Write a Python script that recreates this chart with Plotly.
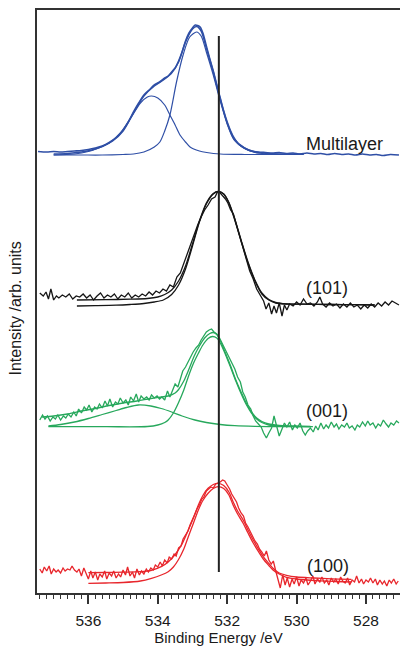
import plotly.graph_objects as go

# ---------------- data (binding energy / eV, intensity in arb. units) ----------------
# Multilayer (blue)
ml_raw_E = [537.45, 537.2, 537.0, 536.8, 536.6, 536.4, 536.2, 536.0, 535.8, 535.6, 535.4, 535.2, 535.0, 534.85,
            534.7, 534.55, 534.4, 534.25, 534.1, 533.95, 533.8, 533.7, 533.6, 533.5, 533.4, 533.3, 533.2, 533.1,
            533.0, 532.92, 532.85, 532.78, 532.7, 532.6, 532.5, 532.4, 532.3, 532.2, 532.1, 532.0, 531.9, 531.8,
            531.7, 531.6, 531.45, 531.3, 531.1, 530.9, 530.7, 530.5, 530.3, 530.1, 529.9, 529.7, 529.5, 529.3,
            529.1, 528.9, 528.7, 528.5, 528.3, 528.1, 527.9, 527.7, 527.5, 527.3, 527.05]
ml_raw_I = [441.5, 441, 441.5, 441, 441.5, 442, 442.5, 443.5, 445, 447, 450.5, 455.5, 463, 471,
            481, 490, 498, 503, 508, 511, 515, 517, 521, 525, 532, 541, 552, 560,
            565, 568, 567.5, 566, 560, 547, 534, 522, 508, 495, 482, 471, 462, 455,
            450, 447, 444, 442, 441, 440.5, 440, 440.5, 439.5, 440, 439, 440, 439, 439.5,
            438.5, 439.5, 438.5, 439, 438, 439, 438, 438.5, 437.5, 438.5, 438]
ml_fit_E = [537.0, 536.6, 536.2, 535.9, 535.6, 535.3, 535.0, 534.7, 534.4, 534.1, 533.8, 533.6, 533.4, 533.2,
            533.0, 532.88, 532.75, 532.6, 532.4, 532.2, 532.0, 531.8, 531.5, 531.2, 530.8, 530.3, 529.8]
ml_fit_I = [439, 439.5, 441, 443, 446.5, 452, 462, 480, 497, 507, 514, 520, 531, 551,
            564, 566.5, 562, 545, 521, 494, 470, 454, 445, 441, 439.5, 439, 439]
ml_main_E = [537.0, 536.2, 535.6, 535.0, 534.7, 534.4, 534.1, 533.94, 533.8, 533.65, 533.46, 533.27, 533.08,
             532.88, 532.75, 532.6, 532.4, 532.2, 532.0, 531.8, 531.5, 531.2, 530.8, 529.8]
ml_main_I = [438, 438, 438, 438.5, 439, 441, 446, 451, 462, 478, 511, 538, 556,
             561, 557, 541, 518, 492, 469, 453, 444.5, 440.5, 439, 438.5]
ml_shoulder_E = [537.0, 536.4, 536.0, 535.7, 535.4, 535.1, 534.8, 534.5, 534.3, 534.18, 534.0, 533.8, 533.65,
                 533.5, 533.36, 533.2, 533.07, 532.8, 532.59, 532.2, 531.5, 529.8]
ml_shoulder_I = [438, 439, 441.5, 445, 450, 459, 474, 490, 496, 497, 495, 488, 478,
                 468, 458, 451, 446, 442, 440.5, 439, 438.5, 438.5]

# (101) (black)
s101_raw_E = [537.40, 537.30, 537.22, 537.15, 537.08, 537.0, 536.92, 536.85, 536.75, 536.65, 536.55, 536.45,
              536.35, 536.25, 536.15, 536.05, 535.95, 535.85, 535.75, 535.65, 535.55, 535.45, 535.35, 535.25,
              535.15, 535.05, 534.95, 534.85, 534.75, 534.65, 534.55, 534.45, 534.35, 534.25, 534.15, 534.05,
              533.95, 533.85, 533.75, 533.65, 533.55, 533.45, 533.35, 533.25, 533.15, 533.05, 532.95, 532.85,
              532.75, 532.65, 532.55, 532.45, 532.35, 532.28, 532.2, 532.12, 532.05, 531.98, 531.9, 531.82,
              531.75, 531.65, 531.55, 531.45, 531.35, 531.25, 531.15, 531.05, 530.95, 530.88, 530.8, 530.72,
              530.65, 530.58, 530.5, 530.42, 530.35, 530.28, 530.2, 530.1, 530.0, 529.9, 529.8, 529.7, 529.6,
              529.5, 529.4, 529.33, 529.25, 529.15, 529.05, 528.95, 528.85, 528.75, 528.65, 528.55, 528.45,
              528.35, 528.25, 528.15, 528.05, 527.95, 527.85, 527.75, 527.65, 527.55, 527.45, 527.35, 527.25,
              527.15, 527.05]
s101_raw_I = [300, 297, 301, 294, 304, 293, 297, 295, 298, 296, 299, 294,
              297, 296, 299, 295, 298, 293, 297, 300, 295, 298, 296, 299,
              294, 298, 296, 300, 295, 298, 296, 299, 297, 301, 298, 302,
              300, 304, 302, 308, 306, 316, 320, 330, 338, 350, 358, 368,
              376, 383, 388, 394, 396, 401, 400, 397, 394, 390, 383, 379,
              370, 358, 344, 334, 322, 314, 304, 298, 292, 284, 290, 279,
              287, 280, 290, 277, 288, 283, 289, 287, 291, 288, 294, 289, 290,
              287, 291, 296, 289, 286, 290, 287, 289, 285, 289, 286, 290,
              286, 288, 284, 288, 285, 289, 286, 290, 287, 291, 288, 292,
              290, 288]
s101_env_E = [536.33, 535.5, 534.8, 534.3, 534.0, 533.8, 533.6, 533.4, 533.2, 533.0, 532.8, 532.6, 532.4,
              532.26, 532.1, 531.95, 531.8, 531.6, 531.4, 531.2, 531.0, 530.8, 530.6, 530.3, 529.8, 529.0,
              528.3, 527.75]
s101_env_I = [293, 293.3, 293.8, 294.5, 296, 298.5, 303, 312, 327, 349, 372, 390, 399.5,
              401.5, 399, 390.5, 376, 353, 331, 313, 300, 293.5, 290.5, 289, 288.8, 288.5,
              288.3, 288]
s101_comp_E = [536.33, 535.8, 535.2, 534.8, 534.4, 534.1, 533.84, 533.6, 533.4, 533.2, 533.0, 532.8, 532.6,
               532.4, 532.26, 532.1, 531.95, 531.8, 531.6, 531.4, 531.2, 531.0, 530.8, 530.6, 530.3, 529.8,
               529.0, 528.3, 527.75]
s101_comp_I = [287, 287.3, 287.8, 288.5, 289.5, 291, 293, 298.5, 308, 324, 347, 371, 389,
               399, 401.5, 399, 390, 375, 352, 330, 312, 299, 293, 290, 289, 288.8,
               288.5, 288.3, 288]

# (001) (green)
s001_raw_E = [537.40, 537.32, 537.25, 537.18, 537.1, 537.02, 536.95, 536.88, 536.8, 536.72, 536.65, 536.58,
              536.5, 536.42, 536.35, 536.28, 536.2, 536.12, 536.05, 535.98, 535.9, 535.82, 535.75, 535.68,
              535.6, 535.52, 535.45, 535.38, 535.3, 535.22, 535.15, 535.08, 535.0, 534.92, 534.85, 534.78,
              534.7, 534.62, 534.55, 534.48, 534.4, 534.32, 534.25, 534.18, 534.1, 534.02, 533.95, 533.88,
              533.8, 533.72, 533.65, 533.58, 533.5, 533.42, 533.35, 533.28, 533.2, 533.12, 533.05, 532.98,
              532.9, 532.82, 532.75, 532.68, 532.6, 532.52, 532.45, 532.38, 532.3, 532.22, 532.15, 532.08,
              532.0, 531.92, 531.85, 531.78, 531.7, 531.62, 531.55, 531.48, 531.4, 531.32, 531.25, 531.18,
              531.1, 531.02, 530.95, 530.87, 530.8, 530.72, 530.65, 530.58, 530.5, 530.42, 530.35, 530.28,
              530.2, 530.12, 530.05, 529.98, 529.9, 529.82, 529.75, 529.68, 529.6, 529.52, 529.45, 529.38,
              529.3, 529.22, 529.15, 529.08, 529.0, 528.92, 528.85, 528.78, 528.7, 528.62, 528.55, 528.48,
              528.4, 528.32, 528.25, 528.18, 528.1, 528.02, 527.95, 527.88, 527.8, 527.72, 527.65, 527.58,
              527.5, 527.42, 527.35, 527.28, 527.2, 527.12, 527.05]
s001_raw_I = [173, 178, 174, 177, 172, 176, 174, 178, 173, 177, 175, 179,
              176, 181, 177, 184, 180, 186, 183, 188, 181, 186, 184, 189,
              185, 192, 187, 194, 186, 191, 189, 195, 190, 193, 188, 196,
              192, 199, 191, 197, 194, 196, 193, 198, 195, 197, 194, 196,
              193, 202, 196, 203, 209, 206, 214, 222, 226, 232, 236, 241,
              245, 248, 253, 257, 261, 263, 264, 261, 259, 255, 250, 246,
              240, 233, 229, 224, 216, 211, 201, 196, 188, 184, 177, 172,
              169, 166, 160, 155, 160, 165, 177, 168, 157, 164, 170, 166,
              171, 163, 168, 165, 170, 162, 158, 162, 165, 161, 167, 163,
              170, 164, 168, 165, 171, 166, 169, 164, 168, 166, 170, 165,
              167, 163, 168, 166, 171, 167, 172, 168, 170, 165, 169, 167,
              173, 169, 166, 170, 168, 172, 170]
s001_env_E = [537.34, 537.0, 536.6, 536.2, 535.8, 535.4, 535.0, 534.6, 534.2, 533.9, 533.7, 533.5, 533.4,
              533.25, 533.1, 532.95, 532.8, 532.65, 532.5, 532.4, 532.3, 532.2, 532.05, 531.9, 531.75,
              531.6, 531.45, 531.3, 531.15, 531.0, 530.8, 530.5, 530.1, 529.6]
s001_env_I = [176, 177, 179, 182, 184.5, 187.5, 190, 192, 194.5, 196, 197, 200, 203.5,
              212, 224, 237, 247, 255, 259.5, 260.5, 258.5, 252.5, 240, 227, 213,
              201, 190, 181, 175, 171.5, 169, 167.5, 167, 166.5]
s001_main_E = [537.15, 535.5, 534.3, 534.0, 533.8, 533.7, 533.55, 533.41, 533.25, 533.12, 532.98, 532.83,
               532.7, 532.55, 532.42, 532.3, 532.2, 532.05, 531.9, 531.75, 531.6, 531.45, 531.3, 531.15,
               531.0, 530.8, 530.4, 529.6]
s001_main_I = [166.3, 166.3, 166.5, 168, 170.5, 173, 180, 189.7, 203, 216.3, 229, 239.7,
               248, 254.5, 256.5, 255, 250, 238.5, 225.5, 212, 199.5, 188.5, 180, 174,
               170.5, 168, 166.8, 166.3]
s001_broad_E = [537.15, 536.8, 536.4, 536.0, 535.6, 535.2, 534.9, 534.56, 534.2, 533.9, 533.6, 533.3,
                532.93, 532.6, 532.2, 531.78, 531.2, 530.5, 529.53]
s001_broad_I = [167, 168.5, 171, 174.5, 178.5, 182.5, 185.5, 188, 187, 184.5, 181, 177,
                173, 170.5, 168.5, 167.3, 166.6, 166.3, 166.3]

# (100) (red)
s100_raw_E = [537.40, 537.33, 537.27, 537.2, 537.13, 537.07, 537.0, 536.93, 536.87, 536.8, 536.73, 536.67,
              536.6, 536.53, 536.47, 536.4, 536.33, 536.27, 536.2, 536.13, 536.07, 536.0, 535.93, 535.87,
              535.8, 535.73, 535.67, 535.6, 535.53, 535.47, 535.4, 535.33, 535.27, 535.2, 535.13, 535.07,
              535.0, 534.93, 534.87, 534.8, 534.73, 534.67, 534.6, 534.53, 534.47, 534.4, 534.33, 534.27,
              534.2, 534.13, 534.07, 534.0, 533.93, 533.87, 533.8, 533.73, 533.67, 533.6, 533.53, 533.47,
              533.4, 533.33, 533.27, 533.2, 533.13, 533.07, 533.0, 532.93, 532.87, 532.8, 532.73, 532.67,
              532.6, 532.53, 532.47, 532.4, 532.33, 532.27, 532.2, 532.13, 532.07, 532.0, 531.93, 531.87,
              531.8, 531.73, 531.67, 531.6, 531.53, 531.47, 531.4, 531.33, 531.27, 531.2, 531.13, 531.07,
              531.0, 530.93, 530.87, 530.8, 530.73, 530.67, 530.6, 530.53, 530.47, 530.4, 530.33, 530.27,
              530.2, 530.13, 530.07, 530.0, 529.93, 529.87, 529.8, 529.73, 529.67, 529.6, 529.53, 529.47,
              529.4, 529.33, 529.27, 529.2, 529.13, 529.07, 529.0, 528.93, 528.87, 528.8, 528.73, 528.67,
              528.6, 528.53, 528.47, 528.4, 528.33, 528.27, 528.2, 528.13, 528.07, 528.0, 527.93, 527.87,
              527.8, 527.73, 527.67, 527.6, 527.53, 527.47, 527.4, 527.33, 527.27, 527.2, 527.13, 527.07]
s100_raw_I = [24, 20, 26, 22, 27, 19, 24, 21, 23, 20, 25, 22,
              24, 23, 27, 23, 21, 24, 17, 25, 20, 14, 22, 15,
              21, 13, 19, 16, 22, 14, 20, 17, 22, 15, 19, 16,
              23, 18, 26, 17, 21, 15, 24, 18, 22, 19, 24, 21,
              25, 23, 28, 26, 31, 27, 33, 30, 36, 34, 39, 37,
              45, 47, 54, 58, 62, 68, 73, 79, 84, 88, 94, 96,
              102, 104, 106, 105, 109, 110, 111, 113, 112, 108, 104, 99,
              95, 91, 85, 80, 77, 70, 66, 61, 58, 52, 49, 44,
              41, 37, 42, 33, 29, 32, 22, 14, 5, 18, 8, 15,
              6, 14, 9, 16, 7, 13, 10, 15, 8, 12, 17, 9,
              14, 11, 16, 10, 13, 8, 15, 11, 14, 9, 16, 12,
              10, 15, 8, 13, 11, 17, 10, 14, 9, 13, 11, 15,
              10, 14, 8, 13, 9, 12, 7, 13, 10, 14, 9, 12]
s100_env_E = [536.0, 535.5, 535.0, 534.5, 534.2, 533.9, 533.7, 533.5, 533.3, 533.12, 532.95, 532.83, 532.7,
              532.55, 532.4, 532.26, 532.1, 531.95, 531.83, 531.7, 531.54, 531.4, 531.25, 531.1, 530.96,
              530.8, 530.68, 530.5, 530.29, 530.0, 529.5, 529.0, 528.42]
s100_env_I = [20.3, 20.5, 20.8, 21.3, 22.5, 26.3, 31, 38.5, 49, 63, 77, 88, 97.5,
              104.7, 108.5, 109.7, 107.5, 101, 91.3, 82, 73, 63, 53, 44, 36.3,
              29.5, 24.7, 20, 17.7, 16, 15, 14.2, 13.7]
s100_comp_E = [536.0, 535.5, 535.0, 534.5, 534.18, 533.9, 533.7, 533.55, 533.41, 533.25, 533.12, 532.97,
               532.83, 532.7, 532.55, 532.4, 532.26, 532.1, 531.95, 531.83, 531.7, 531.54, 531.4, 531.25,
               531.1, 530.96, 530.8, 530.68, 530.5, 530.29, 530.0, 529.43, 528.9, 528.42]
s100_comp_I = [9.7, 10, 10.5, 12, 14.7, 18, 21.3, 26, 33, 44, 56.3, 70,
               83, 92.5, 99.7, 104.5, 106.3, 104.5, 98, 88, 79, 69.7, 60, 50,
               41.5, 34, 27.5, 23, 19, 15.7, 14, 12.3, 11.5, 11]

# reference line and labels
ref_line_E = [532.24, 532.24]
ref_line_I = [21, 557]
label_texts = ["Multilayer", "(101)", "(001)", "(100)"]
label_E = [529.8, 529.8, 529.78, 529.76]
label_I = [449, 305, 182, 27]

x_range = [537.48, 527.02]
y_range = [0, 583]
x_ticks = [536, 534, 532, 530, 528]

BLUE = "#2f4fa6"
BLACK = "#161616"
GREEN = "#27a85c"
RED = "#e8262c"

fig = go.Figure()


def add(E, I, color, width, shape="linear"):
    fig.add_trace(go.Scatter(x=E, y=I, mode="lines",
                             line=dict(color=color, width=width, shape=shape, smoothing=0.8),
                             showlegend=False, hoverinfo="skip"))


# blue
add(ml_shoulder_E, ml_shoulder_I, BLUE, 1.2, "spline")
add(ml_main_E, ml_main_I, BLUE, 1.2, "spline")
add(ml_fit_E, ml_fit_I, BLUE, 1.5, "spline")
add(ml_raw_E, ml_raw_I, BLUE, 1.6, "spline")
# black
add(s101_comp_E, s101_comp_I, BLACK, 1.3, "spline")
add(s101_env_E, s101_env_I, BLACK, 1.3, "spline")
add(s101_raw_E, s101_raw_I, BLACK, 1.3)
# green
add(s001_broad_E, s001_broad_I, GREEN, 1.3, "spline")
add(s001_main_E, s001_main_I, GREEN, 1.3, "spline")
add(s001_env_E, s001_env_I, GREEN, 1.3, "spline")
add(s001_raw_E, s001_raw_I, GREEN, 1.3)
# red
add(s100_comp_E, s100_comp_I, RED, 1.3, "spline")
add(s100_env_E, s100_env_I, RED, 1.3, "spline")
add(s100_raw_E, s100_raw_I, RED, 1.3)
# vertical reference line
add(ref_line_E, ref_line_I, "#222222", 2.0)

for t, e, i in zip(label_texts, label_E, label_I):
    fig.add_annotation(x=e, y=i, text=t, showarrow=False, xanchor="left", yanchor="middle",
                       font=dict(size=18, color="#1a1a1a", family="Liberation Sans, Arial, sans-serif"))

fig.add_annotation(xref="paper", yref="paper", x=0, y=0.5, xshift=-22, yshift=-7,
                   text="Intensity /arb. units", textangle=-90, showarrow=False,
                   xanchor="center", yanchor="middle",
                   font=dict(size=16, color="#1a1a1a", family="Liberation Sans, Arial, sans-serif"))

fig.update_layout(
    width=400, height=646,
    margin=dict(l=37, r=0, t=10, b=53),
    paper_bgcolor="white", plot_bgcolor="white",
    font=dict(family="Liberation Sans, Arial, sans-serif", size=15, color="#1a1a1a"),
    xaxis=dict(range=x_range, tickvals=x_ticks, ticktext=[str(v) for v in x_ticks],
               ticks="outside", ticklen=9, tickwidth=1.5, tickcolor="#333",
               ticklabelstandoff=3,
               minor=dict(dtick=0.2, tick0=536, ticks="outside", ticklen=4, tickwidth=1.2, tickcolor="#333"),
               showline=True, linecolor="#333", linewidth=2, mirror=True,
               showgrid=False, zeroline=False,
               title=dict(text="Binding Energy /eV", standoff=7, font=dict(size=15)),
               tickfont=dict(size=15.5)),
    yaxis=dict(range=y_range, showticklabels=False, ticks="", showline=True, linecolor="#333",
               linewidth=2, showgrid=False, zeroline=False),
)

fig.write_html("out.html", config={"displayModeBar": False})
